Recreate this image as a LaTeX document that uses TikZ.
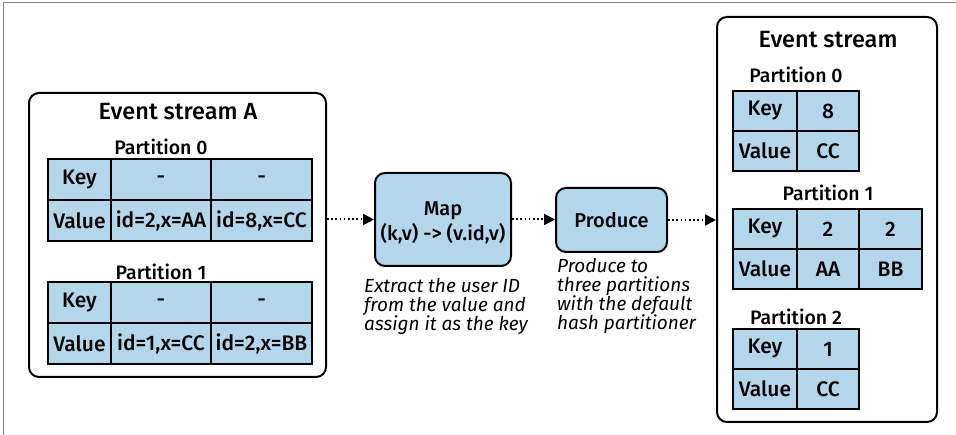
\documentclass[tikz,border=0pt]{standalone}
\usepackage{fontspec}
\setmainfont{Fira Sans}[UprightFont=* Medium, ItalicFont=* Italic]
\usetikzlibrary{arrows.meta}
\definecolor{cellblue}{RGB}{180,214,235}
\definecolor{framegray}{RGB}{130,130,130}
\tikzset{
  cell/.style={draw=black, line width=2pt, fill=cellblue, inner sep=0pt, font=\fontsize{21}{21}\selectfont},
  streambox/.style={draw=black, line width=2pt, rounded corners=10pt, fill=white},
  opbox/.style={draw=black, line width=2pt, rounded corners=10pt, fill=cellblue, align=center, font=\fontsize{20}{25}\selectfont},
  title/.style={font=\fontsize{23.5}{24}\selectfont},
  plabel/.style={font=\fontsize{19.5}{20}\selectfont},
  caption/.style={font=\fontsize{19}{19}\selectfont\itshape, align=left, inner sep=0pt},
  flow/.style={line width=2pt, dash pattern=on 1.6pt off 2.6pt, -{Triangle[length=11pt,width=11pt]}}
}
\begin{document}
\begin{tikzpicture}[x=1pt,y=-1pt]
\useasboundingbox (0,0) rectangle (956,435);
% outer frame (only top and left visible)
\draw[framegray, line width=1pt] (956,2.5) -- (3,2.5) -- (3,435);

% ---------- left stream ----------
\node[streambox, minimum width=297pt, minimum height=284pt] (lbox) at (177.5,235) {};
\node[title] (ltitle) at (178,112) {Event stream A};
\node[plabel] (lp0) at (161,147) {Partition 0};
\node[cell, minimum width=63pt, minimum height=41pt] (a0k) at (79.5,179.5) {Key};
\node[cell, minimum width=100pt, minimum height=41pt] (a0k1) at (161,179.5) {-};
\node[cell, minimum width=101pt, minimum height=41pt] (a0k2) at (261.5,179.5) {-};
\node[cell, minimum width=63pt, minimum height=41pt] (a0v) at (79.5,220.5) {Value};
\node[cell, minimum width=100pt, minimum height=41pt] (a0v1) at (161,220.5) {id=2,x=AA};
\node[cell, minimum width=101pt, minimum height=41pt] (a0v2) at (261.5,220.5) {id=8,x=CC};

\node[plabel] (lp1) at (161,272) {Partition 1};
\node[cell, minimum width=63pt, minimum height=41pt] (a1k) at (79.5,302.5) {Key};
\node[cell, minimum width=100pt, minimum height=41pt] (a1k1) at (161,302.5) {-};
\node[cell, minimum width=101pt, minimum height=41pt] (a1k2) at (261.5,302.5) {-};
\node[cell, minimum width=63pt, minimum height=41pt] (a1v) at (79.5,343.5) {Value};
\node[cell, minimum width=100pt, minimum height=41pt] (a1v1) at (161,343.5) {id=1,x=CC};
\node[cell, minimum width=101pt, minimum height=41pt] (a1v2) at (261.5,343.5) {id=2,x=BB};

% ---------- operators ----------
\node[opbox, minimum width=136pt, minimum height=93pt] (map) at (443,219.5) {};
\node[font=\fontsize{20}{25}\selectfont, align=center] (maptxt) at (443,222.5) {Map\\(k,v) -> (v.id,v)};
\node[caption, anchor=west] (mapcap) at (364,306) {Extract the user ID\\from the value and\\assign it as the key};
\node[opbox, minimum width=111pt, minimum height=64pt] (prod) at (611.5,220) {Produce};
\node[caption, anchor=west] (prodcap) at (557,296) {Produce to\\three partitions\\with the default\\hash partitioner};

% ---------- right stream ----------
\node[streambox, minimum width=220pt, minimum height=405pt] (rbox) at (827,219.5) {};
\node[title] (rtitle) at (828,40) {Event stream};
\node[plabel] (rp0) at (796,75) {Partition 0};
\node[cell, minimum width=64pt, minimum height=40pt] (b0k) at (765,111) {Key};
\node[cell, minimum width=62pt, minimum height=40pt] (b0k1) at (828,111) {8};
\node[cell, minimum width=64pt, minimum height=40pt] (b0v) at (765,151) {Value};
\node[cell, minimum width=62pt, minimum height=40pt] (b0v1) at (828,151) {CC};

\node[plabel] (rp1) at (828,193) {Partition 1};
\node[cell, minimum width=64pt, minimum height=40pt] (b1k) at (765,229) {Key};
\node[cell, minimum width=62pt, minimum height=40pt] (b1k1) at (828,229) {2};
\node[cell, minimum width=63pt, minimum height=40pt] (b1k2) at (890.5,229) {2};
\node[cell, minimum width=64pt, minimum height=40pt] (b1v) at (765,269) {Value};
\node[cell, minimum width=62pt, minimum height=40pt] (b1v1) at (828,269) {AA};
\node[cell, minimum width=63pt, minimum height=40pt] (b1v2) at (890.5,269) {BB};

\node[plabel] (rp2) at (796,317) {Partition 2};
\node[cell, minimum width=64pt, minimum height=40pt] (b2k) at (765,349) {Key};
\node[cell, minimum width=62pt, minimum height=40pt] (b2k1) at (828,349) {1};
\node[cell, minimum width=64pt, minimum height=40pt] (b2v) at (765,389) {Value};
\node[cell, minimum width=62pt, minimum height=40pt] (b2v1) at (828,389) {CC};

% ---------- connectors ----------
\draw[flow] (map.west -| lbox.east) -- (map.west);
\draw[flow] (map.east) -- (map.east -| prod.west);
\draw[flow] (prod.east) -- (prod.east -| rbox.west);
\end{tikzpicture}
\end{document}
